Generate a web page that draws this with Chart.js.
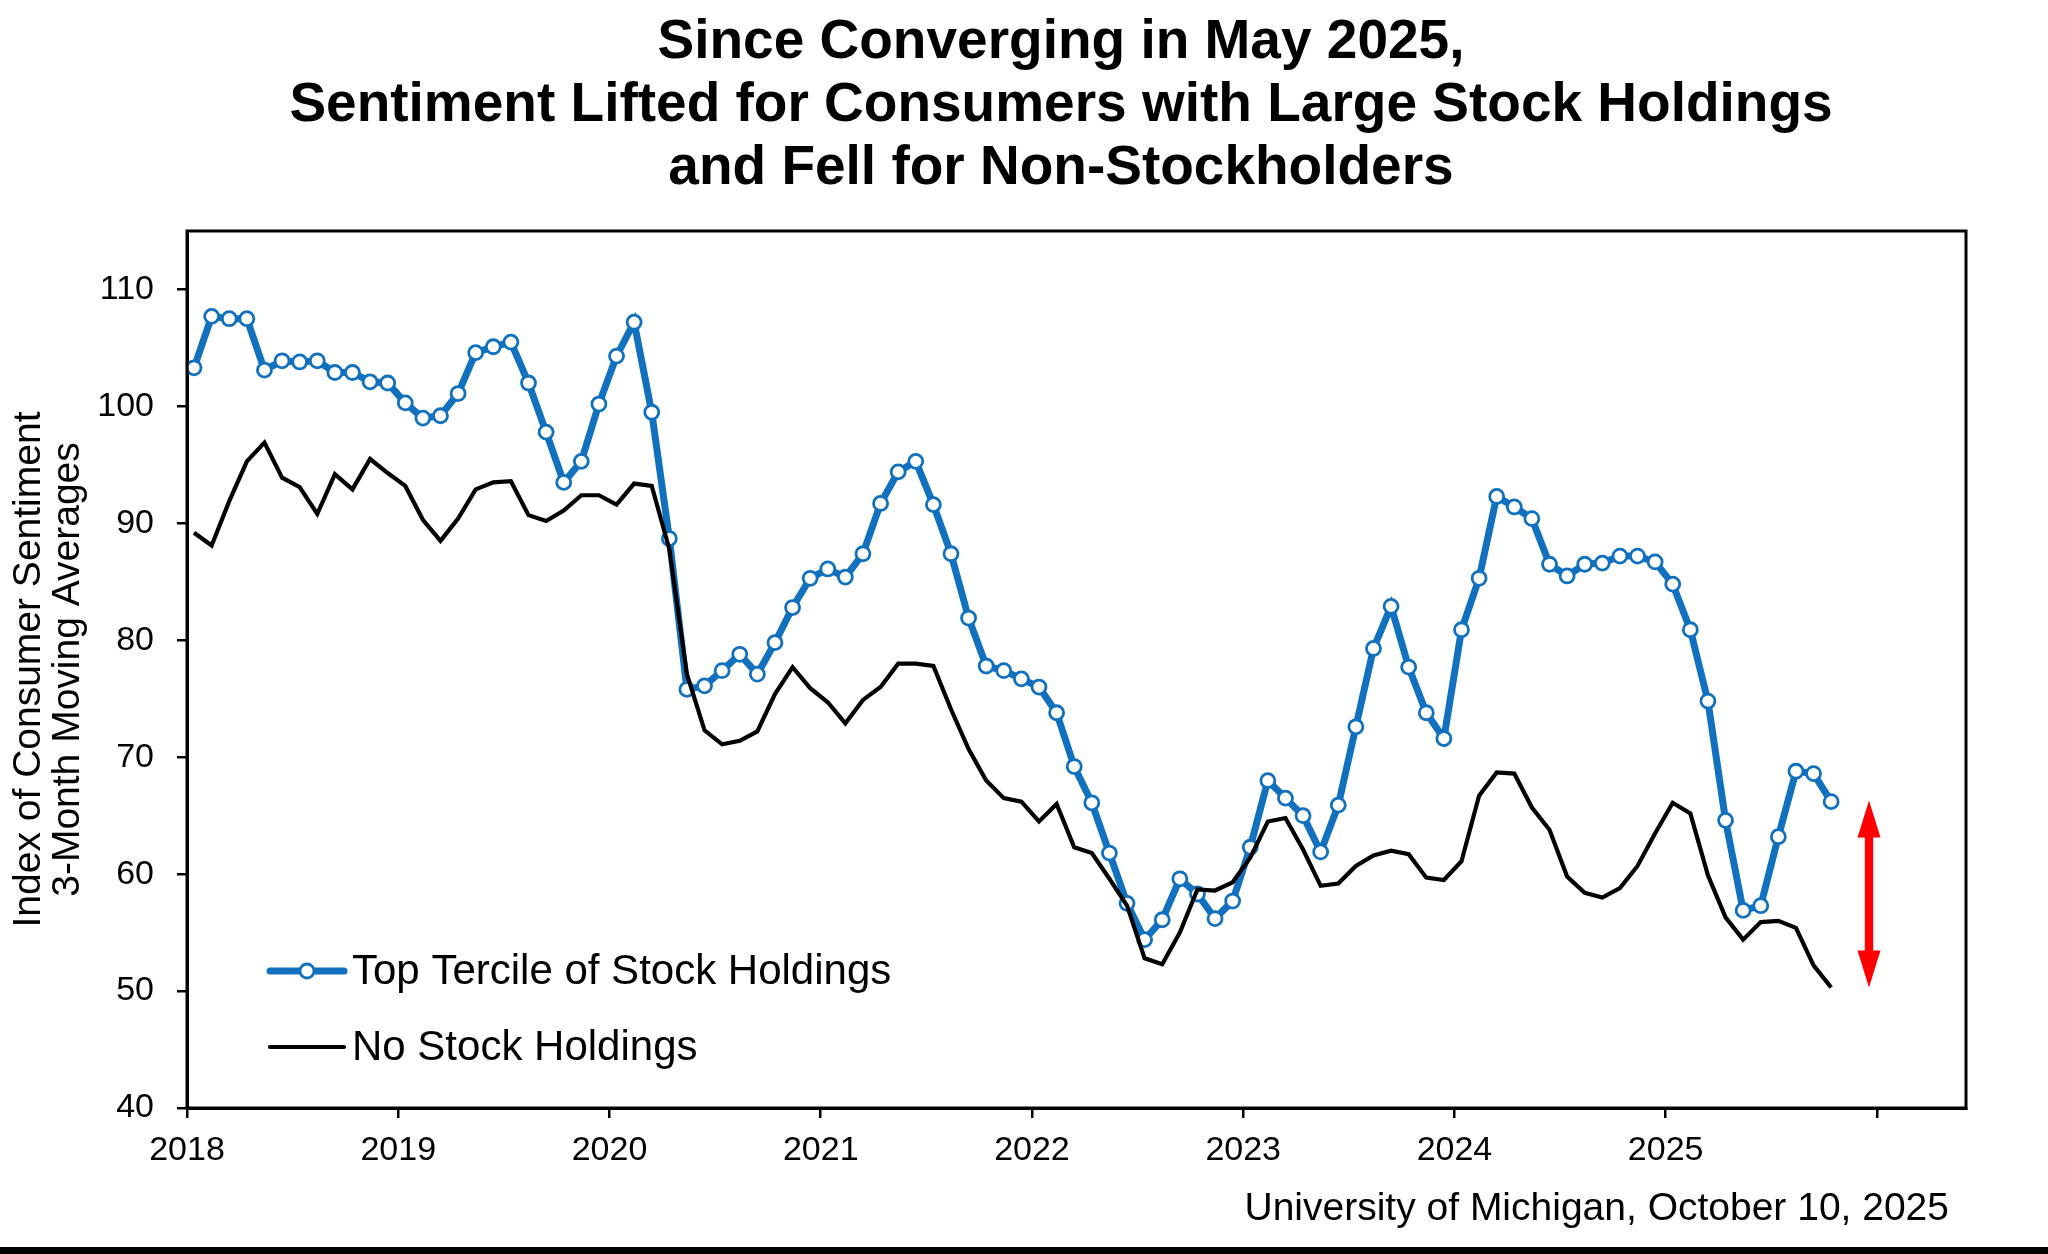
<!DOCTYPE html>
<html>
<head>
<meta charset="utf-8">
<script src="https://cdn.jsdelivr.net/npm/chart.js@4/dist/chart.umd.min.js"></script>
<style>
html,body{margin:0;padding:0;background:#fff;}
#wrap{width:2048px;height:1254px;position:relative;}
canvas{display:block;}
</style>
</head>
<body>
<div id="wrap"><canvas id="c" width="2048" height="1254"></canvas></div>
<script>
// ---------------- data ----------------
const titleLines = [
  'Since Converging in May 2025,',
  'Sentiment Lifted for Consumers with Large Stock Holdings',
  'and Fell for Non-Stockholders'
];
const yAxisTitle = ['Index of Consumer Sentiment', '3-Month Moving Averages'];
const sourceNote = 'University of Michigan, October 10, 2025';
const seriesNames = ['Top Tercile of Stock Holdings', 'No Stock Holdings'];

// monthly, Jan 2018 .. Oct 2025
const topTercile = [
  103.3,107.7,107.5,107.5,103.1,103.9,103.8,103.9,102.9,102.9,102.1,102.0,
  100.3, 99.0, 99.2,101.1,104.6,105.1,105.5,102.0, 97.8, 93.5, 95.3,100.2,
  104.3,107.2, 99.5, 88.7, 75.8, 76.1, 77.4, 78.8, 77.1, 79.8, 82.8, 85.3,
   86.1, 85.4, 87.4, 91.7, 94.4, 95.3, 91.6, 87.4, 81.9, 77.8, 77.4, 76.7,
   76.0, 73.8, 69.2, 66.1, 61.8, 57.5, 54.4, 56.1, 59.6, 58.3, 56.2, 57.7,
   62.3, 68.0, 66.5, 65.0, 61.9, 65.9, 72.6, 79.3, 82.9, 77.7, 73.8, 71.6,
   80.9, 85.3, 92.3, 91.4, 90.4, 86.5, 85.5, 86.5, 86.6, 87.2, 87.2, 86.7,
   84.8, 80.9, 74.8, 64.6, 56.9, 57.3, 63.2, 68.8, 68.6, 66.2
];
const noStock = [
   89.2, 88.1, 91.9, 95.3, 96.9, 93.9, 93.1, 90.8, 94.2, 92.9, 95.5, 94.3,
   93.2, 90.3, 88.5, 90.4, 92.9, 93.5, 93.6, 90.7, 90.2, 91.1, 92.4, 92.4,
   91.6, 93.4, 93.2, 87.8, 77.1, 72.3, 71.1, 71.4, 72.2, 75.4, 77.7, 75.9,
   74.7, 72.9, 74.9, 76.0, 78.0, 78.0, 77.8, 74.1, 70.7, 68.0, 66.5, 66.2,
   64.5, 66.0, 62.3, 61.8, 59.6, 57.3, 52.8, 52.3, 55.0, 58.7, 58.6, 59.3,
   61.4, 64.5, 64.8, 62.1, 59.0, 59.2, 60.7, 61.6, 62.0, 61.7, 59.7, 59.5,
   61.1, 66.7, 68.7, 68.6, 65.7, 63.8, 59.8, 58.4, 58.0, 58.8, 60.7, 63.5,
   66.1, 65.2, 59.9, 56.3, 54.4, 55.9, 56.0, 55.4, 52.2, 50.3
];

const yTickValues = [40, 50, 60, 70, 80, 90, 100, 110];
const xTickLabels = ['2018','2019','2020','2021','2022','2023','2024','2025',''];
// gap annotation (red double arrow), in index units
const arrowFrom = 50.3;
const arrowTo = 66.3;

// ---------------- layout constants ----------------
const FONT = '"Liberation Sans", Arial, Helvetica, sans-serif';
const POINT_OFFSET = 0.4;        // observations plotted slightly after month start
const X_MIN = 0, X_MAX = 101.06; // months since Jan 2018
const ARROW_AT = 95.55;          // months since Jan 2018
const BLUE = '#1171BE';

const xTickValues = xTickLabels.map((_, k) => k * 12);

const decor = {
  id: 'decor',
  beforeDraw(chart) {
    const ctx = chart.ctx;
    ctx.save();
    ctx.fillStyle = '#fff';
    ctx.fillRect(0, 0, chart.width, chart.height);
    ctx.restore();
  },
  afterDraw(chart) {
    const {ctx, chartArea: a, scales: {x, y}} = chart;
    ctx.save();
    // plot frame
    ctx.strokeStyle = '#000';
    ctx.lineWidth = 3;
    ctx.strokeRect(a.left, a.top, a.right - a.left, a.bottom - a.top);

    // title
    ctx.fillStyle = '#000';
    ctx.font = 'bold 55px ' + FONT;
    ctx.textAlign = 'center';
    ctx.textBaseline = 'middle';
    titleLines.forEach((t, i) => ctx.fillText(t, 1061, 43 + i * 63));

    // legend
    const ds = chart.data.datasets;
    const rows = [971, 1047];
    ds.forEach((d, i) => {
      const ly = rows[i];
      ctx.strokeStyle = d.borderColor;
      ctx.lineWidth = d.borderWidth;
      ctx.lineCap = 'round';
      ctx.beginPath();
      ctx.moveTo(270, ly);
      ctx.lineTo(344, ly);
      ctx.stroke();
      if (d.pointRadius > 0) {
        ctx.beginPath();
        ctx.arc(307, ly, d.pointRadius, 0, Math.PI * 2);
        ctx.fillStyle = d.pointBackgroundColor;
        ctx.fill();
        ctx.lineWidth = d.pointBorderWidth;
        ctx.strokeStyle = d.pointBorderColor;
        ctx.stroke();
      }
      ctx.fillStyle = '#000';
      ctx.font = '42px ' + FONT;
      ctx.textAlign = 'left';
      ctx.textBaseline = 'middle';
      ctx.fillText(d.label, 352, ly + 1);
    });

    // red double arrow
    const ax = x.getPixelForValue(ARROW_AT);
    const yT = y.getPixelForValue(arrowTo);
    const yB = y.getPixelForValue(arrowFrom);
    const hl = 37, hw = 11.5, sw = 4.2;
    ctx.fillStyle = '#FF0000';
    ctx.beginPath();
    ctx.moveTo(ax, yT);
    ctx.lineTo(ax + hw, yT + hl);
    ctx.lineTo(ax + sw, yT + hl);
    ctx.lineTo(ax + sw, yB - hl);
    ctx.lineTo(ax + hw, yB - hl);
    ctx.lineTo(ax, yB);
    ctx.lineTo(ax - hw, yB - hl);
    ctx.lineTo(ax - sw, yB - hl);
    ctx.lineTo(ax - sw, yT + hl);
    ctx.lineTo(ax - hw, yT + hl);
    ctx.closePath();
    ctx.fill();

    // source note
    ctx.fillStyle = '#000';
    ctx.font = '39px ' + FONT;
    ctx.textAlign = 'right';
    ctx.textBaseline = 'middle';
    ctx.fillText(sourceNote, 1949, 1209);

    // bottom rule
    ctx.fillRect(0, 1247, chart.width, 7);
    ctx.restore();
  }
};

new Chart(document.getElementById('c'), {
  type: 'line',
  data: {
    datasets: [
      {
        label: seriesNames[0],
        data: topTercile.map((v, i) => ({x: i + POINT_OFFSET, y: v})),
        borderColor: BLUE,
        borderWidth: 7,
        pointRadius: 7,
        pointBorderWidth: 2.8,
        pointBackgroundColor: '#ffffff',
        pointBorderColor: BLUE,
        tension: 0,
        order: 2
      },
      {
        label: seriesNames[1],
        data: noStock.map((v, i) => ({x: i + POINT_OFFSET, y: v})),
        borderColor: '#000000',
        borderWidth: 4.2,
        pointRadius: 0,
        tension: 0,
        order: 1
      }
    ]
  },
  options: {
    responsive: false,
    animation: false,
    devicePixelRatio: 1,
    layout: {padding: {top: 231, right: 82, left: 0, bottom: 0}},
    plugins: {
      legend: {display: false},
      tooltip: {enabled: false},
      title: {display: false}
    },
    scales: {
      x: {
        type: 'linear',
        min: X_MIN,
        max: X_MAX,
        afterBuildTicks(scale) {
          scale.ticks = xTickValues.map(v => ({value: v}));
        },
        afterFit(scale) { scale.height = 146; },
        grid: {
          drawOnChartArea: false,
          drawTicks: true,
          tickLength: 10,
          color: '#000',
          lineWidth: 2.5
        },
        border: {display: true, color: '#000', width: 3},
        ticks: {
          color: '#000',
          font: {family: FONT, size: 34},
          padding: 12,
          maxRotation: 0,
          autoSkip: false,
          callback(value, index) { return xTickLabels[index]; }
        }
      },
      y: {
        type: 'linear',
        min: 40,
        max: 115,
        afterBuildTicks(scale) {
          scale.ticks = yTickValues.map(v => ({value: v}));
        },
        afterFit(scale) { scale.width = 187; },
        grid: {
          drawOnChartArea: false,
          drawTicks: true,
          tickLength: 10,
          color: '#000',
          lineWidth: 2.5
        },
        border: {display: true, color: '#000', width: 3},
        ticks: {
          color: '#000',
          font: {family: FONT, size: 34},
          padding: 23,
          autoSkip: false
        },
        title: {
          display: true,
          text: yAxisTitle,
          color: '#000',
          font: {family: FONT, size: 39, lineHeight: 1.0},
          padding: {top: 9.5, bottom: 0}
        }
      }
    }
  },
  plugins: [decor]
});
</script>
</body>
</html>
